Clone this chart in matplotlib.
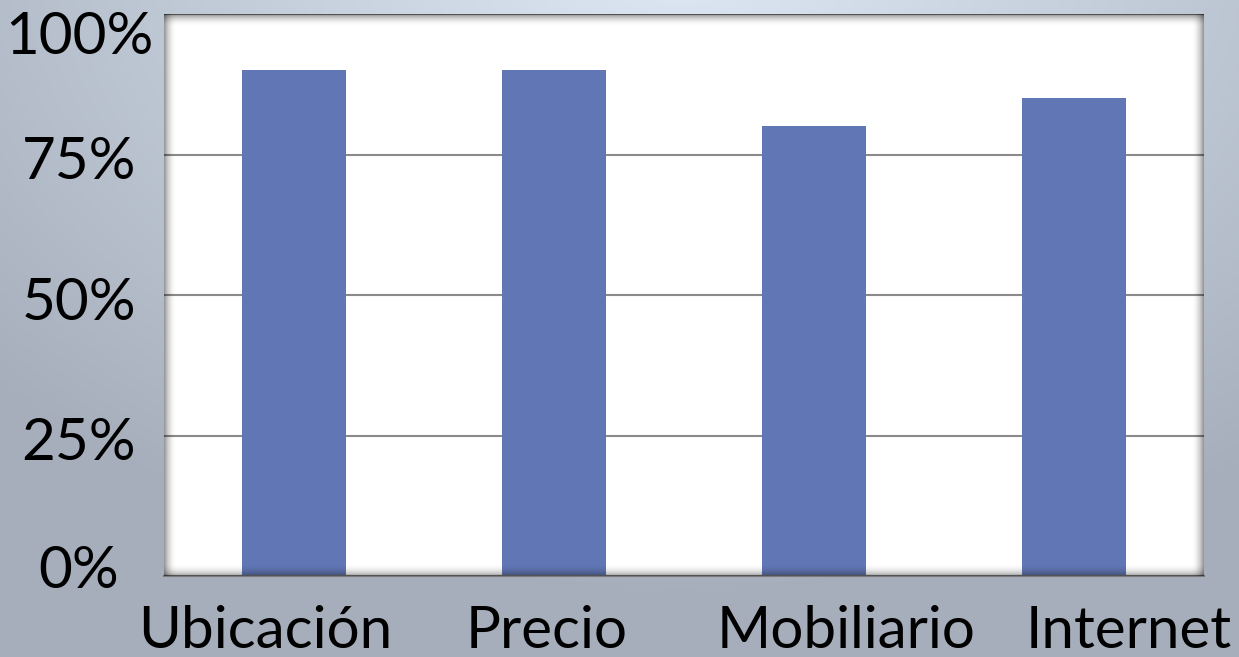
import numpy as np
import matplotlib
matplotlib.use("Agg")
import matplotlib.pyplot as plt
from matplotlib.patches import Rectangle
from matplotlib.transforms import ScaledTranslation

categories = ["Ubicación", "Precio", "Mobiliario", "Internet"]
values = [90, 90, 80, 85]
yticks = [0, 25, 50, 75, 100]
ytick_labels = ["0%", "25%", "50%", "75%", "100%"]

plt.rcParams['font.family'] = ['Lato', 'DejaVu Sans']

W, H = 1239, 657
DPI = 100
fig = plt.figure(figsize=(W / DPI, H / DPI), dpi=DPI)

# background gradient
bg = fig.add_axes([0, 0, 1, 1], zorder=-10)
yy, xx = np.mgrid[0:H, 0:W]
cx, cy = W * 0.55, -40
d = np.sqrt(((xx - cx) / W) ** 2 + ((yy - cy) / H) ** 2 * 0.6)
d = np.clip(d / 0.75, 0, 1)
c0 = np.array([222, 232, 244]) / 255.0
c1 = np.array([166, 174, 188]) / 255.0
img = c0[None, None, :] * (1 - d[..., None]) + c1[None, None, :] * d[..., None]
bg.imshow(img, aspect='auto', extent=[0, 1, 0, 1], origin='upper')
bg.axis('off')

l, r, t, b = 164, 1204, 14, 576
ax = fig.add_axes([l / W, 1 - b / H, (r - l) / W, (b - t) / H])
ax.set_facecolor('white')

x = np.arange(len(categories))
ax.bar(x, values, width=0.4, color='#6176b5', zorder=3)
ax.set_xlim(-0.5, len(categories) - 0.5)
ax.set_ylim(0, 100)
ax.set_yticks(yticks)
ax.set_yticklabels(ytick_labels)
ax.set_xticks(x)
ax.set_xticklabels(categories)
ax.tick_params(axis='both', length=0, labelsize=42, colors='black')
ax.tick_params(axis='y', pad=(164 - 79) * 72 / DPI)
ax.tick_params(axis='x', pad=21)

# label offsets in pixels (right, down)
y_off = [-10, 3, 3, 3, 18]
for lab, dy in zip(ax.get_yticklabels(), y_off):
    lab.set_horizontalalignment('center')
    lab.set_transform(lab.get_transform() + ScaledTranslation(0, -dy / DPI, fig.dpi_scale_trans))
x_off = [-29, -7, 32, 55]
for lab, dx in zip(ax.get_xticklabels(), x_off):
    lab.set_transform(lab.get_transform() + ScaledTranslation(dx / DPI, 0, fig.dpi_scale_trans))

ax.yaxis.grid(True, color='#8a8a8a', linewidth=1.5, zorder=1)
for s in ['left', 'top', 'right']:
    ax.spines[s].set_visible(False)
ax.spines['bottom'].set_color('#7a7a7a')
ax.spines['bottom'].set_linewidth(1.5)
ax.spines['bottom'].set_zorder(4)

# inner shadow of the plot frame
n = 12
for i in range(n):
    a = 0.4 * (1 - i / n) ** 2
    fx = i * 1.0 / (r - l)
    fy = i * 1.0 / (b - t)
    ax.add_patch(Rectangle((fx, 0), 1.0 / (r - l), 1, transform=ax.transAxes,
                           color='black', alpha=a, lw=0, zorder=5))
    ax.add_patch(Rectangle((1 - fx - 1.0 / (r - l), 0), 1.0 / (r - l), 1, transform=ax.transAxes,
                           color='black', alpha=a, lw=0, zorder=5))
    ax.add_patch(Rectangle((0, 1 - fy - 1.0 / (b - t)), 1, 1.0 / (b - t), transform=ax.transAxes,
                           color='black', alpha=a, lw=0, zorder=5))
    ax.add_patch(Rectangle((0, fy), 1, 1.0 / (b - t), transform=ax.transAxes,
                           color='black', alpha=a * 0.8, lw=0, zorder=5))

fig.savefig("out.png", dpi=DPI)
